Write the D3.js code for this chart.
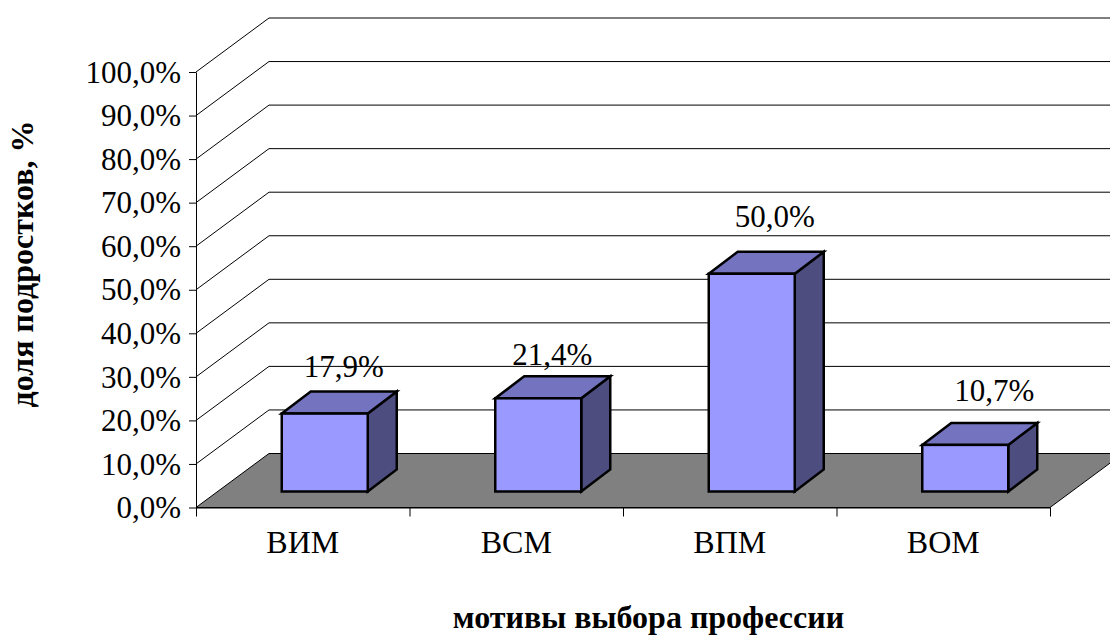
<!DOCTYPE html>
<html>
<head>
<meta charset="utf-8">
<script src="https://cdn.jsdelivr.net/npm/d3@7"></script>
<style>
  html, body { margin: 0; padding: 0; background: #fff; overflow: hidden; }
  text { font-family: "Liberation Serif", serif; fill: #000; }
</style>
</head>
<body>
<div id="chart"></div>
<script>
const categories = ['ВИМ', 'ВСМ', 'ВПМ', 'ВОМ'];
const values = [17.9, 21.4, 50.0, 10.7];
const valueLabels = ['17,9%', '21,4%', '50,0%', '10,7%'];
const yTicks = [0, 10, 20, 30, 40, 50, 60, 70, 80, 90, 100];
const yTitle = 'доля подростков, %';
const xTitle = 'мотивы выбора профессии';

// the labels in the picture do not sit at one fixed distance from the bars
const labelNudgeX = [19, 14, 23, 29];
const labelNudgeY = [-15, -11, -25, -22];

const w = 1110;
const h = 635;

const plot = d3.select('#chart').append('svg')
	.attr('width', w)
	.attr('height', h)
	.style('display', 'block');

const x = d3.scaleBand().domain(categories).range([196, 1050]);
const y = d3.scaleLinear().domain([0, 100]).range([507.5, 72]);

// back wall offset of the fake 3d box
const depthX = 73;
const depthY = -54;
// where the bars stand on the floor
const barDX = 22;
const barDY = -16;
const barW = 86;
const barDepthX = 29;
const barDepthY = -22;

const line = d3.line();

// floor
plot.append('path')
	.attr('d', line([
		[x.range()[0], y(0)],
		[x.range()[0] + depthX, y(0) + depthY],
		[x.range()[1] + depthX, y(0) + depthY],
		[x.range()[1], y(0)]
	]) + 'Z')
	.attr('fill', '#808080')
	.attr('stroke', '#000')
	.attr('stroke-width', 1);

// grid lines on the side wall and back wall
plot.selectAll('.grid')
	.data(yTicks.filter(d => d > 0))
	.enter()
	.append('path')
	.attr('class', 'grid')
	.attr('d', d => line([
		[x.range()[0], y(d)],
		[x.range()[0] + depthX, y(d) + depthY],
		[x.range()[1] + depthX, y(d) + depthY]
	]))
	.attr('fill', 'none')
	.attr('stroke', '#000')
	.attr('stroke-width', 1);

// axes
const yAxis = plot.append('g')
	.attr('transform', `translate(${x.range()[0]},0)`)
	.call(d3.axisLeft(y)
		.tickValues(yTicks)
		.tickSize(7)
		.tickPadding(8)
		.tickSizeOuter(0)
		.tickFormat(d => d3.format('.1f')(d).replace('.', ',') + '%'));
yAxis.selectAll('text')
	.attr('font-size', 31)
	.attr('dy', '0.33em')
	.attr('font-family', '"Liberation Serif", serif');

const edges = categories.map(d => x(d)).concat(x.range()[1]);
const xEdge = d3.scaleLinear().domain(x.range()).range(x.range());
plot.append('g')
	.attr('transform', `translate(0,${y(0)})`)
	.call(d3.axisBottom(xEdge)
		.tickValues(edges)
		.tickSize(9)
		.tickSizeOuter(0)
		.tickFormat(''));

plot.append('g')
	.attr('transform', `translate(0,${y(0)})`)
	.call(d3.axisBottom(x).tickSize(0).tickPadding(23))
	.call(g => g.select('.domain').remove())
	.selectAll('text')
	.attr('font-size', 32)
	.attr('font-family', '"Liberation Serif", serif');

plot.selectAll('.domain, .tick line').attr('stroke', '#000');

// bars
const bars = plot.selectAll('.bar')
	.data(categories.map((c, i) => ({ c: c, v: values[i] })))
	.enter()
	.append('g')
	.attr('class', 'bar')
	.attr('stroke', '#000')
	.attr('stroke-width', 2.5)
	.attr('stroke-linejoin', 'miter');

const left = d => x(d.c) + (x.bandwidth() - barW) / 2 + barDX;
const bottom = barDY + y(0);

// side
bars.append('path')
	.attr('d', d => line([
		[left(d) + barW, y(d.v) + barDY],
		[left(d) + barW + barDepthX, y(d.v) + barDY + barDepthY],
		[left(d) + barW + barDepthX, bottom + barDepthY],
		[left(d) + barW, bottom]
	]) + 'Z')
	.attr('fill', '#4d4d80');

// top
bars.append('path')
	.attr('d', d => line([
		[left(d), y(d.v) + barDY],
		[left(d) + barDepthX, y(d.v) + barDY + barDepthY],
		[left(d) + barW + barDepthX, y(d.v) + barDY + barDepthY],
		[left(d) + barW, y(d.v) + barDY]
	]) + 'Z')
	.attr('fill', '#7373bf');

// front
bars.append('rect')
	.attr('x', left)
	.attr('y', d => y(d.v) + barDY)
	.attr('width', barW)
	.attr('height', d => bottom - (y(d.v) + barDY))
	.attr('fill', '#9999ff');

// value labels
plot.selectAll('.value')
	.data(categories.map((c, i) => ({ c: c, v: values[i], label: valueLabels[i], i: i })))
	.enter()
	.append('text')
	.attr('class', 'value')
	.attr('x', d => left(d) + barW / 2 + labelNudgeX[d.i])
	.attr('y', d => y(d.v) + barDY + barDepthY + labelNudgeY[d.i])
	.attr('text-anchor', 'middle')
	.attr('font-size', 31)
	.text(d => d.label);

// axis titles
plot.append('text')
	.attr('x', 648.5)
	.attr('y', 628)
	.attr('text-anchor', 'middle')
	.attr('font-size', 32)
	.attr('font-weight', 'bold')
	.text(xTitle);

plot.append('text')
	.attr('transform', 'translate(33,264) rotate(-90)')
	.attr('text-anchor', 'middle')
	.attr('font-size', 32)
	.attr('font-weight', 'bold')
	.text(yTitle);
</script>
</body>
</html>
